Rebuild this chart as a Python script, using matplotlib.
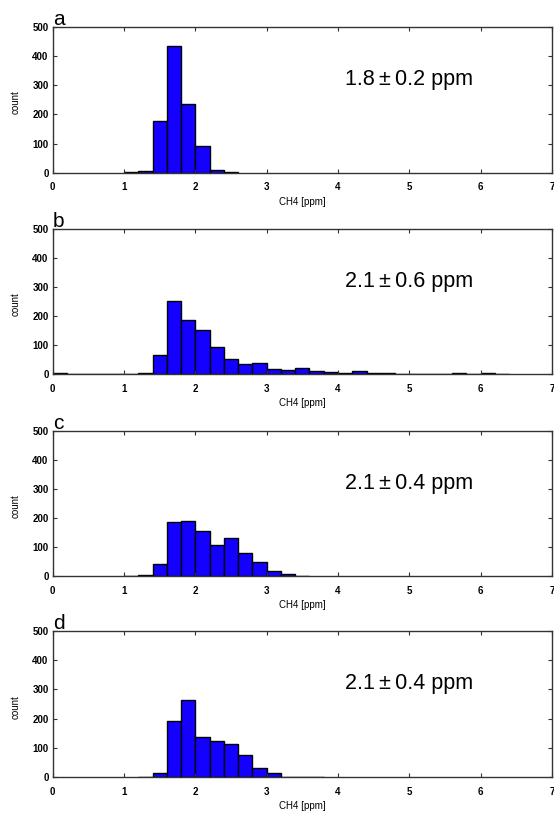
import numpy as np
import matplotlib
matplotlib.use('Agg')
import matplotlib.pyplot as plt

plt.rcParams['font.family'] = ['Liberation Sans', 'DejaVu Sans']

# bin starts (ppm, 0.2 wide) and counts for each panel
bins_a = [1.0, 1.2, 1.4, 1.6, 1.8, 2.0, 2.2, 2.4]
counts_a = [1, 6, 178, 433, 235, 92, 10, 1]

bins_b = [0.0, 0.2, 0.4, 0.6, 0.8, 1.0, 1.2, 1.4, 1.6, 1.8, 2.0, 2.2, 2.4, 2.6, 2.8,
          3.0, 3.2, 3.4, 3.6, 3.8, 4.0, 4.2, 4.4, 4.6, 4.8, 5.0, 5.2, 5.4, 5.6, 5.8,
          6.0, 6.2]
counts_b = [4, 1, 1, 1, 1, 1, 2, 65, 253, 185, 150, 92, 51, 35, 38,
            16, 14, 19, 11, 7, 4, 9, 2, 2, 1, 1, 1, 1, 2, 1,
            2, 1]

bins_c = [1.0, 1.2, 1.4, 1.6, 1.8, 2.0, 2.2, 2.4, 2.6, 2.8, 3.0, 3.2, 3.4]
counts_c = [1, 3, 43, 186, 190, 154, 107, 130, 80, 47, 18, 7, 1]

bins_d = [1.2, 1.4, 1.6, 1.8, 2.0, 2.2, 2.4, 2.6, 2.8, 3.0, 3.2, 3.4, 3.6]
counts_d = [1, 15, 192, 265, 136, 123, 113, 75, 32, 15, 1, 1, 1]

labels = ['a', 'b', 'c', 'd']
notes = ['1.8\u2009\u00b1\u20090.2 ppm', '2.1\u2009\u00b1\u20090.6 ppm',
         '2.1\u2009\u00b1\u20090.4 ppm', '2.1\u2009\u00b1\u20090.4 ppm']
panels = [(bins_a, counts_a), (bins_b, counts_b), (bins_c, counts_c), (bins_d, counts_d)]

W, H = 554, 816
fig = plt.figure(figsize=(W / 100, H / 100), dpi=100)

# axes boxes in pixels: (top, bottom)
boxes = [(26.7, 172.7), (229, 374), (431, 576), (631, 777)]
left, right = 52.7, 552

for i, (top, bot) in enumerate(boxes):
    ax = fig.add_axes([left / W, 1 - bot / H, (right - left) / W, (bot - top) / H])
    b, c = panels[i]
    ax.bar(b, c, width=0.2, align='edge', color='#1400ff', edgecolor='black', linewidth=1)
    ax.set_xlim(0, 7)
    ax.set_ylim(0, 500)
    ax.set_xticks(np.arange(0, 8, 1))
    ax.set_yticks(np.arange(0, 600, 100))
    ax.tick_params(direction='in', top=True, right=True, length=3, width=0.8,
                   labelsize=7, color='#333333')
    ax.tick_params(axis='x', pad=7)
    ax.tick_params(axis='y', pad=3)
    for lab in ax.get_xticklabels() + ax.get_yticklabels():
        lab.set_fontweight('bold')
    for s in ax.spines.values():
        s.set_color('#333333')
        s.set_linewidth(1)
    ax.set_xlabel('CH4 [ppm]', fontsize=7, labelpad=3)
    ax.set_ylabel('count', fontsize=7)
    ax.yaxis.set_label_coords(-0.064, 0.48)
    ax.text(4.1, 320, notes[i], fontsize=15.5, ha='left', va='center')
    ax.text(0.0, 1.012, labels[i], transform=ax.transAxes, fontsize=15,
            ha='left', va='baseline')

fig.savefig('out.png', dpi=100)
